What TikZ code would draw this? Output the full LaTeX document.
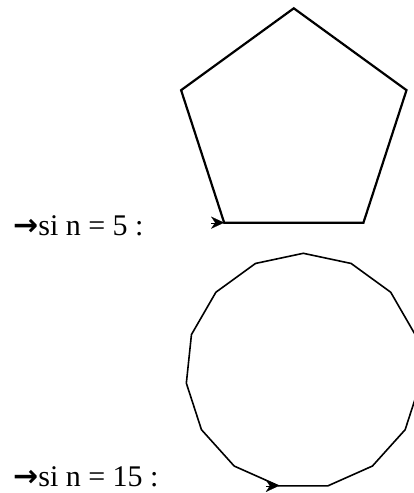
\documentclass[tikz,border=0pt]{standalone}
\usepackage{fontspec}
\setmainfont{Liberation Serif}
\newfontfamily\arrowfont{DejaVu Sans}
\usetikzlibrary{arrows.meta}
\tikzset{
  lbl/.style={anchor=base west, inner sep=0pt, font=\fontsize{30}{30}\selectfont},
  pent/.style={draw=black, line width=2.2pt, line join=miter},
  poly/.style={draw=black, line width=1.6pt, line join=miter},
  turtle/.style={-{Stealth[length=13pt,width=12pt,inset=4pt]}, line width=0.1pt}
}
\begin{document}
\begin{tikzpicture}[x=1pt,y=1pt]
\useasboundingbox (0,0) rectangle (413,493);
% pentagon
\begin{scope}[shift={(293.8,366.2)}]
  \draw[pent] (234:118.5) \foreach \k in {1,...,4} { -- ({234+72*\k}:118.5) } -- cycle;
  \coordinate (p0) at (234:118.5);
\end{scope}
\coordinate (p0b) at ([xshift=-13pt]p0);
\draw[turtle] (p0b) -- (p0);
% 15-gon
\begin{scope}[shift={(303.3,122.1)}]
  \draw[poly] (258:117.6) \foreach \k in {1,...,14} { -- ({258+24*\k}:117.6) } -- cycle;
  \coordinate (q0) at (258:117.6);
\end{scope}
\coordinate (q0b) at ([xshift=-13pt]q0);
\draw[turtle] (q0b) -- (q0);
% labels
\node[lbl] (l5) at (13,257) {{\arrowfont\bfseries →}si n = 5 :};
\node[lbl] (l15) at (13,6) {{\arrowfont\bfseries →}si n = 15 :};
\end{tikzpicture}
\end{document}
